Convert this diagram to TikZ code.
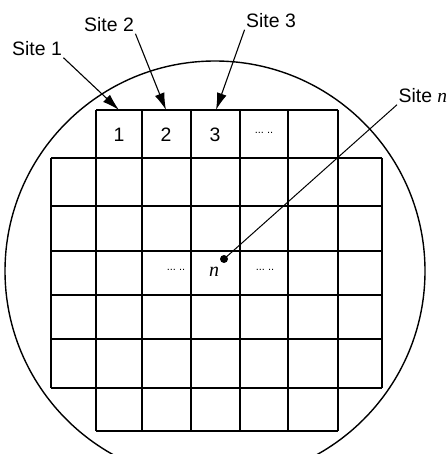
\documentclass[tikz,border=0pt]{standalone}
\usepackage{fontspec}
\setmainfont{Liberation Sans}
\newfontfamily\timesit{Liberation Serif}
\usetikzlibrary{arrows.meta}

\begin{document}
\begin{tikzpicture}[x=1bp,y=-1bp,line width=1.2bp,
    lbl/.style={font=\fontsize{19.5}{22}\selectfont,inner sep=1bp},
    pointer/.style={line width=1.1bp,-{Latex[length=17bp,width=10bp]}},
    fewdots/.style={font=\fontsize{11}{11}\selectfont,inner sep=0pt}]
  \useasboundingbox (0,0) rectangle (448,454);
  \clip (0,0) rectangle (448,454);

  \draw[line width=1.4bp] (215,271) circle [radius=210bp];

  \foreach \x in {96,142,191,240,288,338}
    \draw (\x,110) -- (\x,431);
  \foreach \x in {51,382}
    \draw (\x,158) -- (\x,388);
  \foreach \y in {158,206,251,295,339,388}
    \draw (51,\y) -- (382,\y);
  \draw (96,110) -- (338,110);
  \draw (96,431) -- (338,431);

  \node[lbl] at (119,135) {1};
  \node[lbl] at (166,135) {2};
  \node[lbl] at (215,135) {3};
  \node[fewdots] at (264,133) {...\ ..};
  \node[fewdots] at (176,270) {...\ ..};
  \node[fewdots] at (265,270) {...\ ..};

  \node[lbl] (s1) at (37,49) {Site 1};
  \node[lbl] (s2) at (109,25) {Site 2};
  \node[lbl] (s3) at (271,21) {Site 3};
  \node[lbl,anchor=west] (sn) at (397,96) {Site {\timesit\itshape n}};

  \coordinate (tip1) at (119,110);
  \coordinate (tip2) at (166,110);
  \coordinate (tip3) at (216,110);
  \draw[pointer] (s1.south east) -- (tip1);
  \draw[pointer] (s2.south east) -- (tip2);
  \draw[pointer] (s3.south west) -- (tip3);

  \fill (224,259) circle [radius=4bp] coordinate (dot);
  \node[font=\fontsize{20}{22}\selectfont\timesit\itshape] (n) at (214,272) {n};
  \draw[line width=1bp] (sn.south west) -- (dot);
\end{tikzpicture}
\end{document}
